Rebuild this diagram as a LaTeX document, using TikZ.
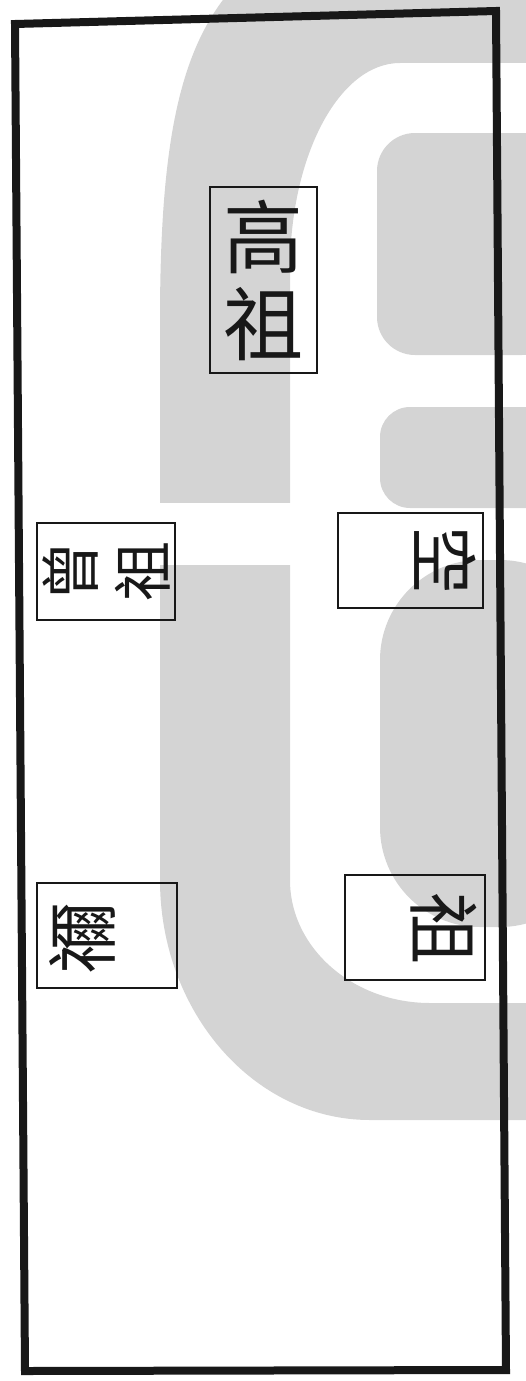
\documentclass[tikz,border=0pt]{standalone}
\usepackage{fontspec}
\newfontfamily\cjk{Noto Sans CJK TC}
\definecolor{wm}{RGB}{212,212,212}
\definecolor{ink}{RGB}{24,24,24}
\tikzset{
  frameline/.style={draw=ink, line width=8pt, line join=miter},
  slotbox/.style={draw=ink, line width=2.8pt, rectangle, inner sep=0pt},
  glyph/.style={text=ink, inner sep=0pt, font=\cjk\fontsize{#1}{#1}\selectfont},
  pair/.style 2 args={text=ink, inner sep=0pt, align=center, font=\cjk\fontsize{#1}{#2}\selectfont},
  watermark/.style={fill=wm, draw=none},
}
\begin{document}
\begin{tikzpicture}[x=1pt, y=-1pt]
\useasboundingbox (0,0) rectangle (526,1381);
% background watermark
\begin{scope}
  \clip (0,0) rectangle (526,1381);
  \fill[watermark, even odd rule]
    (535,-30) -- (250,-30) .. controls (185,30) and (160,120) .. (160,320)
    -- (160,880) .. controls (160,1012) and (254,1120) .. (370,1120)
    -- (535,1120) -- cycle
    (535,63) -- (400,63) .. controls (339,63) and (290,156) .. (290,270)
    -- (290,880) .. controls (290,948) and (353,1003) .. (430,1003)
    -- (535,1003) -- cycle;
  \fill[white] (158,503) rectangle (292,565);
  \fill[watermark, rounded corners=38pt] (377,133) rectangle (560,355);
  \fill[watermark, rounded corners=30pt] (380,407) rectangle (560,508);
  \fill[watermark, rounded corners=100pt] (380,560) rectangle (600,927);
\end{scope}
% outer frame
\coordinate (tl) at (15,24);
\coordinate (tr) at (496,11);
\coordinate (br) at (506,1370);
\coordinate (bl) at (25,1371);
\draw[frameline] (tl) -- (tr) -- (br) -- (bl) -- cycle;
% tablets
\node[slotbox, pair={80}{87}, minimum width=107pt, minimum height=186pt] (gaozu) at (263.5,280) {高\\祖};
\node[slotbox, pair={60}{72}, rotate=90, minimum width=97pt, minimum height=138pt] (zengzu) at (106,571.5) {曾\\祖};
\node[slotbox, minimum width=145pt, minimum height=95pt] (kongbox) at (410.5,560.5) {};
\node[glyph=68, rotate=-90] (kong) at (445,560) {空};
\node[slotbox, minimum width=140pt, minimum height=105pt] (nibox) at (107,935.5) {};
\node[glyph=72, rotate=90] (ni) at (82,938) {禰};
\node[slotbox, minimum width=140pt, minimum height=105pt] (zubox) at (415,927.5) {};
\node[glyph=72, rotate=-90] (zu) at (444,928) {祖};
\end{tikzpicture}
\end{document}
